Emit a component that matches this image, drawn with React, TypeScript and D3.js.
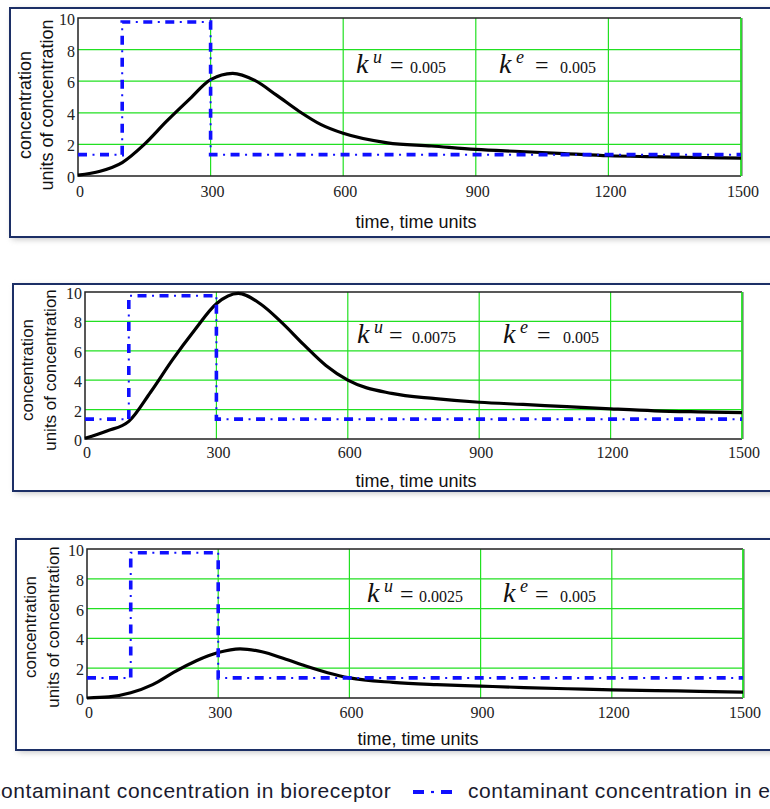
import React from "react";
import * as d3 from "d3";

// ---------- data ----------
const timePoints = [0, 50, 100, 150, 200, 250, 300, 350, 400, 450, 500, 550, 600, 700, 800, 900, 1000, 1100, 1200, 1300, 1400, 1500];
const bioreceptorKu005 = [0.05, 0.3, 0.85, 2.0, 3.45, 4.8, 6.1, 6.5, 6.05, 5.1, 4.1, 3.25, 2.7, 2.1, 1.9, 1.68, 1.55, 1.42, 1.28, 1.22, 1.17, 1.13];
const bioreceptorKu0075 = [0.05, 0.55, 1.2, 3.2, 5.4, 7.4, 9.2, 9.9, 9.2, 7.9, 6.4, 5.0, 4.0, 3.1, 2.75, 2.5, 2.35, 2.2, 2.05, 1.92, 1.85, 1.8];
const bioreceptorKu0025 = [0.0, 0.07, 0.35, 0.9, 1.75, 2.5, 3.05, 3.3, 3.1, 2.65, 2.15, 1.7, 1.35, 1.05, 0.9, 0.8, 0.7, 0.62, 0.55, 0.5, 0.45, 0.4];
const envTime = [0, 100, 100, 300, 300, 1500];
const envConc = [1.35, 1.35, 9.75, 9.75, 1.35, 1.35];
const xTicks = [0, 300, 600, 900, 1200, 1500];
const yTicks = [0, 2, 4, 6, 8, 10];
const gridX = [300, 600, 900, 1200, 1500];
const gridY = [2, 4, 6, 8];
const kuValues = ["0.005", "0.0075", "0.0025"];
const keValues = ["0.005", "0.005", "0.005"];
const xTitle = "time, time units";
const yTitleLines = ["concentration", "units of concentration"];
const legendLabels = ["contaminant concentration in bioreceptor", "contaminant concentration in environment"];
const bioSeries = [bioreceptorKu005, bioreceptorKu0075, bioreceptorKu0025];

// ---------- layout ----------
const panels = [
  { fx: 10, fy: 8, fh: 229, l: 78, r: 741, t: 18, b: 176, yt1: 25, yt2: 47, ytc: 105, ytfs: 18, xtc: 416, xty: 228, xtb: 197,
    ku: { k: 356, eq: 390, v: 410 }, ke: { k: 499, eq: 535, v: 560 }, kb: 73 },
  { fx: 13, fy: 284, fh: 207, l: 85, r: 742, t: 292, b: 439, yt1: 27, yt2: 50, ytc: 370, ytfs: 17, xtc: 416, xty: 487, xtb: 458,
    ku: { k: 357, eq: 389, v: 412 }, ke: { k: 503, eq: 537, v: 563 }, kb: 343 },
  { fx: 16, fy: 539, fh: 211, l: 87, r: 743, t: 549, b: 698, yt1: 30, yt2: 53, ytc: 627, ytfs: 17, xtc: 418, xty: 745, xtb: 718,
    ku: { k: 367, eq: 400, v: 419 }, ke: { k: 503, eq: 535, v: 560 }, kb: 602 },
];

const GREEN = "#22e022";
const BLUE = "#1010ff";
const NAVY = "#1c2f66";
const SANS = "'Liberation Sans', Arial, sans-serif";
const SERIF = "'Liberation Serif', 'Times New Roman', serif";

function EnvLine({ d }: { d: string }) {
  return (
    <g fill="none" stroke={BLUE}>
      <path d={d} strokeWidth={3.6} strokeDasharray="9 13" />
      <path d={d} strokeWidth={2} strokeDasharray="2 20" strokeDashoffset={7.5} />
    </g>
  );
}

function Panel({ p, i }: { p: any; i: number }) {
  const x = d3.scaleLinear().domain([0, 1500]).range([p.l, p.r]);
  const y = d3.scaleLinear().domain([0, 10]).range([p.b, p.t]);
  const bio = bioSeries[i];
  const bioLine = d3
    .line<number>()
    .x((_, j) => x(timePoints[j]))
    .y((v) => y(v))
    .curve(d3.curveMonotoneX)(bio) as string;
  const envLine = d3
    .line<number>()
    .x((_, j) => x(envTime[j]))
    .y((v) => y(v))(envConc) as string;

  const kLabel = (pos: any, sup: string, val: string) => (
    <g fontFamily={SERIF} fill="#111">
      <text x={pos.k} y={p.kb} fontSize={28} fontStyle="italic">k</text>
      <text x={pos.k + 17} y={p.kb - 10} fontSize={18} fontStyle="italic">{sup}</text>
      <text x={pos.eq} y={p.kb} fontSize={24}>=</text>
      <text x={pos.v} y={p.kb} fontSize={16}>{val}</text>
    </g>
  );

  return (
    <g>
      <rect x={p.fx + 2} y={p.fy + 2} width={800} height={p.fh} fill="#8a8a8a" opacity={0.55} filter="url(#shadow)" />
      <rect x={p.fx} y={p.fy} width={800} height={p.fh} fill="#fff" stroke={NAVY} strokeWidth={2} />
      {gridY.map((v) => (
        <line key={"gy" + v} x1={p.l} x2={p.r} y1={y(v)} y2={y(v)} stroke={GREEN} strokeWidth={1.2} />
      ))}
      {gridX.map((v) => (
        <line key={"gx" + v} x1={x(v)} x2={x(v)} y1={p.t} y2={p.b} stroke={GREEN} strokeWidth={1.2} />
      ))}
      <path d={`M${p.r},${p.t} H${p.l} V${p.b} H${p.r}`} fill="none" stroke="#222" strokeWidth={1.5} />
      <line x1={p.r + 1} x2={p.r + 1} y1={p.t} y2={p.b} stroke="#555" strokeWidth={1} />
      <line x1={p.r} x2={p.r} y1={p.t} y2={p.b} stroke={GREEN} strokeWidth={1.5} />
      {kLabel(p.ku, "u", kuValues[i])}
      {kLabel(p.ke, "e", keValues[i])}
      <path d={bioLine} fill="none" stroke="#000" strokeWidth={3.2} strokeLinejoin="round" />
      <EnvLine d={envLine} />
      {yTicks.map((v) => (
        <text key={"yt" + v} x={p.l - 3} y={y(v) + 7} textAnchor="end" fontFamily={SERIF} fontSize={16} fill="#222">
          {v}
        </text>
      ))}
      {xTicks.map((v) => (
        <text key={"xt" + v} x={x(v) + 2} y={p.xtb} textAnchor="middle" fontFamily={SERIF} fontSize={16} fill="#222">
          {v}
        </text>
      ))}
      <text x={p.xtc} y={p.xty} textAnchor="middle" fontFamily={SANS} fontSize={18} fill="#111">
        {xTitle}
      </text>
      <text transform={`translate(${p.yt1},${p.ytc}) rotate(-90)`} dy="0.35em" textAnchor="middle" fontFamily={SANS} fontSize={p.ytfs} fill="#111">
        {yTitleLines[0]}
      </text>
      <text transform={`translate(${p.yt2},${p.ytc}) rotate(-90)`} dy="0.35em" textAnchor="middle" fontFamily={SANS} fontSize={p.ytfs} fill="#111">
        {yTitleLines[1]}
      </text>
    </g>
  );
}

export default function App() {
  return (
    <svg
      width={770}
      height={809}
      style={{ position: "absolute", left: 0, top: 0, background: "#fff", overflow: "hidden" }}
    >
      <defs>
        <filter id="shadow" x="-10%" y="-10%" width="120%" height="120%">
          <feGaussianBlur stdDeviation={3} />
        </filter>
      </defs>
      <rect x={0} y={0} width={770} height={809} fill="#fff" />
      {panels.map((p, i) => (
        <Panel key={i} p={p} i={i} />
      ))}
      <g fontFamily={SANS} fontSize={21} fill="#1a1a2e" letterSpacing={0.55}>
        <line x1={-60} x2={-20} y1={792} y2={792} stroke="#000" strokeWidth={3} />
        <text x={-10} y={798}>{legendLabels[0]}</text>
        <g stroke={BLUE} strokeWidth={4}>
          <line x1={413} x2={424} y1={792} y2={792} />
          <line x1={431} x2={434} y1={792} y2={792} strokeWidth={2.2} />
          <line x1={441} x2={452} y1={792} y2={792} />
        </g>
        <text x={468} y={798}>{legendLabels[1]}</text>
      </g>
    </svg>
  );
}
